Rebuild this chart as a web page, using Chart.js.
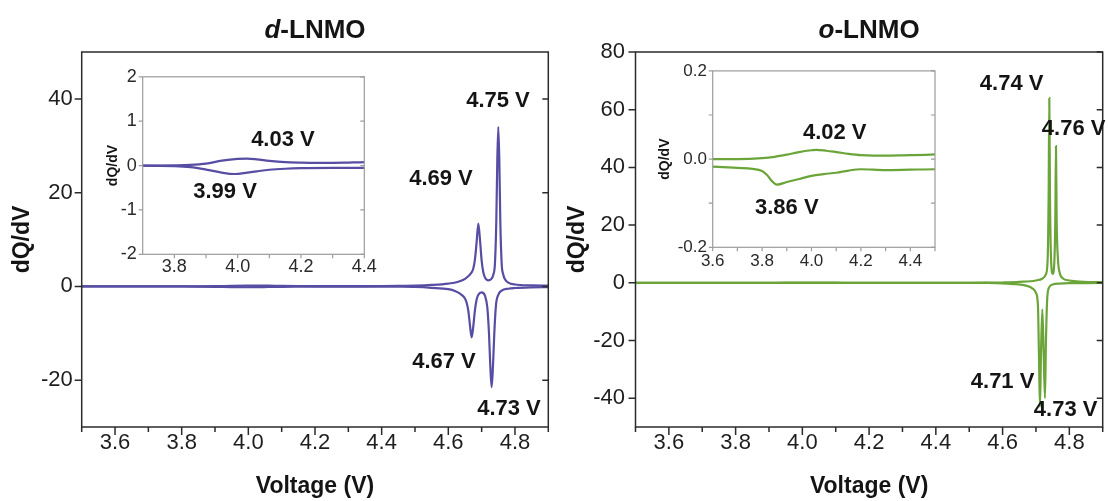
<!DOCTYPE html>
<html>
<head>
<meta charset="utf-8">
<title>dQ/dV — d-LNMO / o-LNMO</title>
<script src="https://cdn.jsdelivr.net/npm/chart.js@4.4.1/dist/chart.umd.min.js"></script>
<style>
  html, body { margin: 0; padding: 0; background: #fff; }
  #wrap { position: relative; width: 1108px; height: 501px; overflow: hidden; background: #fff; }
  .panel { position: absolute; }
  canvas { display: block; }
</style>
</head>
<body>
<div id="wrap">
  <div class="panel" style="left:0;top:0"><canvas id="mainD" width="554" height="501"></canvas></div>
  <div class="panel" style="left:554px;top:0"><canvas id="mainO" width="554" height="501"></canvas></div>
  <div class="panel" style="left:95px;top:60px"><canvas id="insetD" width="290" height="225"></canvas></div>
  <div class="panel" style="left:650px;top:55px"><canvas id="insetO" width="310" height="225"></canvas></div>
</div>
<script>
// ---------- d-LNMO: charge (positive) and discharge (negative) branches ----------
const dChargeV = [3.50, 3.60, 3.70, 3.80, 3.85, 3.90, 3.95, 4.00, 4.03, 4.06, 4.10, 4.15, 4.20, 4.25, 4.30,
  4.35, 4.40, 4.45, 4.50, 4.55, 4.60, 4.63, 4.65, 4.67, 4.675, 4.68, 4.685, 4.69, 4.695, 4.70, 4.705,
  4.71, 4.72, 4.728, 4.735, 4.74, 4.744, 4.747, 4.75, 4.753, 4.756, 4.76, 4.765, 4.77, 4.78, 4.80, 4.85, 4.90];
const dChargeQ = [0.00, 0.00, 0.00, 0.005, 0.015, 0.045, 0.11, 0.15, 0.156, 0.14, 0.105, 0.076, 0.065, 0.06, 0.062,
  0.068, 0.075, 0.10, 0.15, 0.30, 0.60, 1.0, 1.6, 3.0, 3.8, 5.8, 9.5, 13.4, 10.0, 5.5, 3.0,
  1.9, 1.3, 1.5, 2.5, 5.0, 14.0, 27.0, 34.0, 27.0, 14.0, 5.0, 2.5, 1.5, 0.8, 0.4, 0.22, 0.15];

const dDischargeV = [3.50, 3.60, 3.70, 3.80, 3.85, 3.90, 3.95, 3.99, 4.03, 4.06, 4.10, 4.15, 4.20, 4.30, 4.40,
  4.45, 4.50, 4.55, 4.60, 4.62, 4.64, 4.65, 4.655, 4.66, 4.665, 4.67, 4.675, 4.68, 4.685, 4.69, 4.70,
  4.71, 4.717, 4.722, 4.726, 4.73, 4.734, 4.738, 4.743, 4.75, 4.76, 4.78, 4.80, 4.85, 4.90];
const dDischargeQ = [0.00, 0.00, 0.00, -0.012, -0.035, -0.09, -0.16, -0.19, -0.16, -0.13, -0.095, -0.072, -0.06, -0.053, -0.052,
  -0.07, -0.12, -0.30, -0.60, -1.0, -1.8, -2.6, -3.5, -5.2, -8.3, -10.9, -8.5, -5.0, -2.8, -1.8, -1.3,
  -2.0, -4.5, -10.0, -17.0, -21.5, -17.0, -10.0, -4.0, -1.8, -0.9, -0.5, -0.35, -0.2, -0.15];

// ---------- o-LNMO ----------
const oChargeV = [3.50, 3.60, 3.70, 3.80, 3.85, 3.90, 3.95, 4.00, 4.02, 4.06, 4.10, 4.15, 4.20, 4.25, 4.30,
  4.40, 4.50, 4.55, 4.60, 4.65, 4.70, 4.72, 4.73, 4.735, 4.738, 4.74, 4.742, 4.745, 4.75, 4.755,
  4.758, 4.76, 4.762, 4.766, 4.77, 4.78, 4.80, 4.83, 4.87, 4.90];
const oChargeQ = [0.000, 0.000, 0.000, 0.002, 0.005, 0.010, 0.016, 0.020, 0.021, 0.019, 0.016, 0.012, 0.009, 0.008, 0.008,
  0.009, 0.0105, 0.03, 0.10, 0.30, 0.80, 1.5, 3.0, 8.0, 30.0, 64.0, 30.0, 9.0, 3.1, 7.0,
  22.0, 47.4, 22.0, 8.0, 4.0, 1.6, 0.8, 0.4, 0.25, 0.2];

const oDischargeV = [3.50, 3.60, 3.70, 3.76, 3.80, 3.82, 3.84, 3.86, 3.90, 3.95, 4.00, 4.05, 4.10, 4.15, 4.20,
  4.30, 4.40, 4.50, 4.55, 4.60, 4.64, 4.67, 4.69, 4.70, 4.706, 4.709, 4.712, 4.715, 4.719, 4.723,
  4.727, 4.730, 4.734, 4.74, 4.75, 4.77, 4.80, 4.85, 4.90];
const oDischargeQ = [-0.015, -0.017, -0.020, -0.022, -0.027, -0.036, -0.050, -0.058, -0.052, -0.045, -0.038, -0.034, -0.031, -0.026, -0.023,
  -0.025, -0.024, -0.023, -0.06, -0.20, -0.50, -1.0, -2.0, -3.5, -8.0, -25.0, -43.0, -25.0, -9.2, -24.0,
  -40.0, -20.0, -5.0, -1.5, -0.6, -0.3, -0.15, -0.1, -0.08];

// ---------- ticks ----------
const mainXTicks = [3.6, 3.8, 4.0, 4.2, 4.4, 4.6, 4.8];
const mainXMinor = [3.5, 3.7, 3.9, 4.1, 4.3, 4.5, 4.7, 4.9];
const dYTicks = [-20, 0, 20, 40];
const oYTicks = [-40, -20, 0, 20, 40, 60, 80];
const dInsetXTicks = [3.8, 4.0, 4.2, 4.4];
const dInsetXMinor = [3.9, 4.1, 4.3];
const dInsetYTicks = [-2, -1, 0, 1, 2];
const oInsetXTicks = [3.6, 3.8, 4.0, 4.2, 4.4];
const oInsetXMinor = [3.7, 3.9, 4.1, 4.3, 4.5];
const oInsetYTicks = [-0.2, 0.0, 0.2];
const oInsetYMinor = [-0.1, 0.1];

// ---------- peak annotations: [text, voltage, dQ/dV] ----------
const dPeakLabels = [["4.75 V", 4.749, 39.5], ["4.69 V", 4.578, 22.9], ["4.67 V", 4.587, -16.2], ["4.73 V", 4.782, -26.2]];
const oPeakLabels = [["4.74 V", 4.627, 68.9], ["4.76 V", 4.813, 53.3], ["4.71 V", 4.600, -34.4], ["4.73 V", 4.789, -44.1]];
const dInsetLabels = [["4.03 V", 4.143, 0.58], ["3.99 V", 3.96, -0.60]];
const oInsetLabels = [["4.02 V", 4.094, 0.059], ["3.86 V", 3.90, -0.111]];

const FAMILY = '"Liberation Sans", Arial, Helvetica, sans-serif';
const PURPLE = '#574da3';
const GREEN = '#6ba53a';
const INK = '#141414';

function toPoints(v, q) { return v.map((x, i) => ({ x: x, y: q[i] })); }

function lineSet(v, q, color) {
  return {
    data: toPoints(v, q), borderColor: color, borderWidth: 2.2, pointRadius: 0,
    cubicInterpolationMode: 'monotone', fill: false
  };
}

// frame around the plot area plus outward/inward tick marks
function framePlugin(c) {
  return {
    id: 'frame',
    afterDatasetsDraw(chart) {
      const { ctx, chartArea: a, scales: { x, y } } = chart;
      ctx.save();
      ctx.strokeStyle = c.color;
      ctx.lineWidth = c.width;
      ctx.strokeRect(a.left, a.top, a.right - a.left, a.bottom - a.top);
      ctx.beginPath();
      c.xMajor.forEach(v => { const p = x.getPixelForValue(v); ctx.moveTo(p, a.bottom); ctx.lineTo(p, a.bottom + c.xLen); });
      c.xMinor.forEach(v => { const p = x.getPixelForValue(v); ctx.moveTo(p, a.bottom); ctx.lineTo(p, a.bottom + c.xMinorLen); });
      c.yMajor.concat(c.yMinor || []).forEach(v => {
        const p = y.getPixelForValue(v);
        ctx.moveTo(a.left, p); ctx.lineTo(a.left - c.yLen, p);
        ctx.moveTo(a.right, p); ctx.lineTo(a.right - c.mirrorLen, p);
      });
      ctx.stroke();
      ctx.restore();
    }
  };
}

function labelPlugin(items, size) {
  return {
    id: 'peakLabels',
    afterDraw(chart) {
      const { ctx, scales: { x, y } } = chart;
      ctx.save();
      ctx.font = 'bold ' + size + 'px ' + FAMILY;
      ctx.fillStyle = INK;
      ctx.textAlign = 'center';
      ctx.textBaseline = 'middle';
      items.forEach(([t, vx, vy]) => ctx.fillText(t, x.getPixelForValue(vx), y.getPixelForValue(vy)));
      ctx.restore();
    }
  };
}

function titlePlugin(lead, rest) {
  return {
    id: 'panelTitle',
    afterDraw(chart) {
      const { ctx, chartArea: a } = chart;
      const fi = 'italic bold 26px ' + FAMILY, fn = 'bold 26px ' + FAMILY;
      ctx.save();
      ctx.font = fi; const w1 = ctx.measureText(lead).width;
      ctx.font = fn; const w2 = ctx.measureText(rest).width;
      const x0 = (a.left + a.right) / 2 - (w1 + w2) / 2;
      ctx.fillStyle = INK;
      ctx.textBaseline = 'middle';
      ctx.font = fi; ctx.fillText(lead, x0, 31);
      ctx.font = fn; ctx.fillText(rest, x0 + w1, 31);
      ctx.restore();
    }
  };
}

function fixedTicks(list) { return s => { s.ticks = list.map(v => ({ value: v })); }; }

function mainChart(id, o) {
  return new Chart(document.getElementById(id), {
    type: 'line',
    data: { datasets: [lineSet(o.cv, o.cq, o.color), lineSet(o.dv, o.dq, o.color)] },
    options: {
      responsive: false, animation: false, events: [],
      layout: { padding: { top: 52, right: o.padRight, left: 0, bottom: 0 } },
      plugins: { legend: { display: false }, tooltip: { enabled: false } },
      scales: {
        x: {
          type: 'linear', min: 3.5, max: 4.9,
          afterBuildTicks: fixedTicks(mainXTicks),
          afterFit: s => { s.height = 74; },
          grid: { display: false, drawTicks: false }, border: { display: false },
          ticks: { padding: 3, autoSkip: false, maxRotation: 0, color: '#1e1e1e',
            font: { family: FAMILY, size: 22 }, callback: v => Number(v).toFixed(1) },
          title: { display: true, text: 'Voltage (V)', color: INK,
            font: { family: FAMILY, size: 23, weight: 'bold' }, padding: { top: 0, bottom: 1 } }
        },
        y: {
          type: 'linear', min: o.ymin, max: o.ymax,
          afterBuildTicks: fixedTicks(o.yTicks),
          afterFit: s => { s.width = o.yWidth; },
          grid: { display: false, drawTicks: false }, border: { display: false },
          ticks: { padding: o.yPad, autoSkip: false, color: '#1e1e1e',
            font: { family: FAMILY, size: 22 }, callback: v => String(v) },
          title: { display: true, text: 'dQ/dV', color: INK,
            font: { family: FAMILY, size: 23, weight: 'bold' }, padding: { top: o.yTitlePad, bottom: 0 } }
        }
      }
    },
    plugins: [
      framePlugin({ color: '#2b2b2b', width: 1.5, xMajor: mainXTicks, xMinor: mainXMinor, xLen: 8, xMinorLen: 5,
        yMajor: o.yTicks, yLen: 7, mirrorLen: 6 }),
      labelPlugin(o.labels, 22),
      titlePlugin(o.lead, '-LNMO')
    ]
  });
}

function insetChart(id, o) {
  return new Chart(document.getElementById(id), {
    type: 'line',
    data: { datasets: [lineSet(o.cv, o.cq, o.color), lineSet(o.dv, o.dq, o.color)] },
    options: {
      responsive: false, animation: false, events: [],
      layout: { padding: { top: o.top, right: o.padRight, left: 0, bottom: 0 } },
      plugins: { legend: { display: false }, tooltip: { enabled: false } },
      scales: {
        x: {
          type: 'linear', min: o.xmin, max: o.xmax,
          afterBuildTicks: fixedTicks(o.xTicks),
          afterFit: s => { s.height = o.xHeight; },
          grid: { display: false, drawTicks: false }, border: { display: false },
          ticks: { padding: o.xPad, autoSkip: false, maxRotation: 0, color: '#2a2a2a',
            font: { family: FAMILY, size: o.font }, callback: v => Number(v).toFixed(1) }
        },
        y: {
          type: 'linear', min: o.ymin, max: o.ymax,
          afterBuildTicks: fixedTicks(o.yTicks),
          afterFit: s => { s.width = o.yWidth; },
          grid: { display: false, drawTicks: false }, border: { display: false },
          ticks: { padding: o.yPad, autoSkip: false, color: '#2a2a2a',
            font: { family: FAMILY, size: o.font }, callback: o.yFormat },
          title: { display: true, text: 'dQ/dV', color: INK,
            font: { family: FAMILY, size: 14, weight: 'bold' }, padding: { top: o.yTitlePad, bottom: 0 } }
        }
      }
    },
    plugins: [
      framePlugin({ color: '#9c9c9c', width: 1.2, xMajor: o.xTicks, xMinor: o.xMinor, xLen: 4, xMinorLen: 4,
        yMajor: o.yTicks, yMinor: o.yMinor, yLen: 4, mirrorLen: 4 }),
      labelPlugin(o.labels, 22)
    ]
  });
}

mainChart('mainD', {
  cv: dChargeV, cq: dChargeQ, dv: dDischargeV, dq: dDischargeQ, color: PURPLE,
  ymin: -30, ymax: 50, yTicks: dYTicks, yWidth: 81.7, padRight: 5.7, yPad: 9, yTitlePad: 9,
  labels: dPeakLabels, lead: 'd'
});

mainChart('mainO', {
  cv: oChargeV, cq: oChargeQ, dv: oDischargeV, dq: oDischargeQ, color: GREEN,
  ymin: -50, ymax: 80, yTicks: oYTicks, yWidth: 81.5, padRight: 5.3, yPad: 10.5, yTitlePad: 10,
  labels: oPeakLabels, lead: 'o'
});

insetChart('insetD', {
  cv: dChargeV, cq: dChargeQ, dv: dDischargeV, dq: dDischargeQ, color: PURPLE,
  xmin: 3.7, xmax: 4.4, ymin: -2, ymax: 2, xTicks: dInsetXTicks, xMinor: dInsetXMinor,
  yTicks: dInsetYTicks, yMinor: [], yFormat: v => String(v),
  top: 15, padRight: 20.7, xHeight: 30.7, yWidth: 47.7, xPad: 2, yPad: 6, yTitlePad: 10, font: 18,
  labels: dInsetLabels
});

insetChart('insetO', {
  cv: oChargeV, cq: oChargeQ, dv: oDischargeV, dq: oDischargeQ, color: GREEN,
  xmin: 3.6, xmax: 4.5, ymin: -0.2, ymax: 0.2, xTicks: oInsetXTicks, xMinor: oInsetXMinor,
  yTicks: oInsetYTicks, yMinor: oInsetYMinor, yFormat: v => Number(v).toFixed(1),
  top: 13.3, padRight: 25, xHeight: 32.7, yWidth: 62.7, xPad: 4, yPad: 5.7, yTitlePad: 6.6, font: 17,
  labels: oInsetLabels
});
</script>
</body>
</html>
